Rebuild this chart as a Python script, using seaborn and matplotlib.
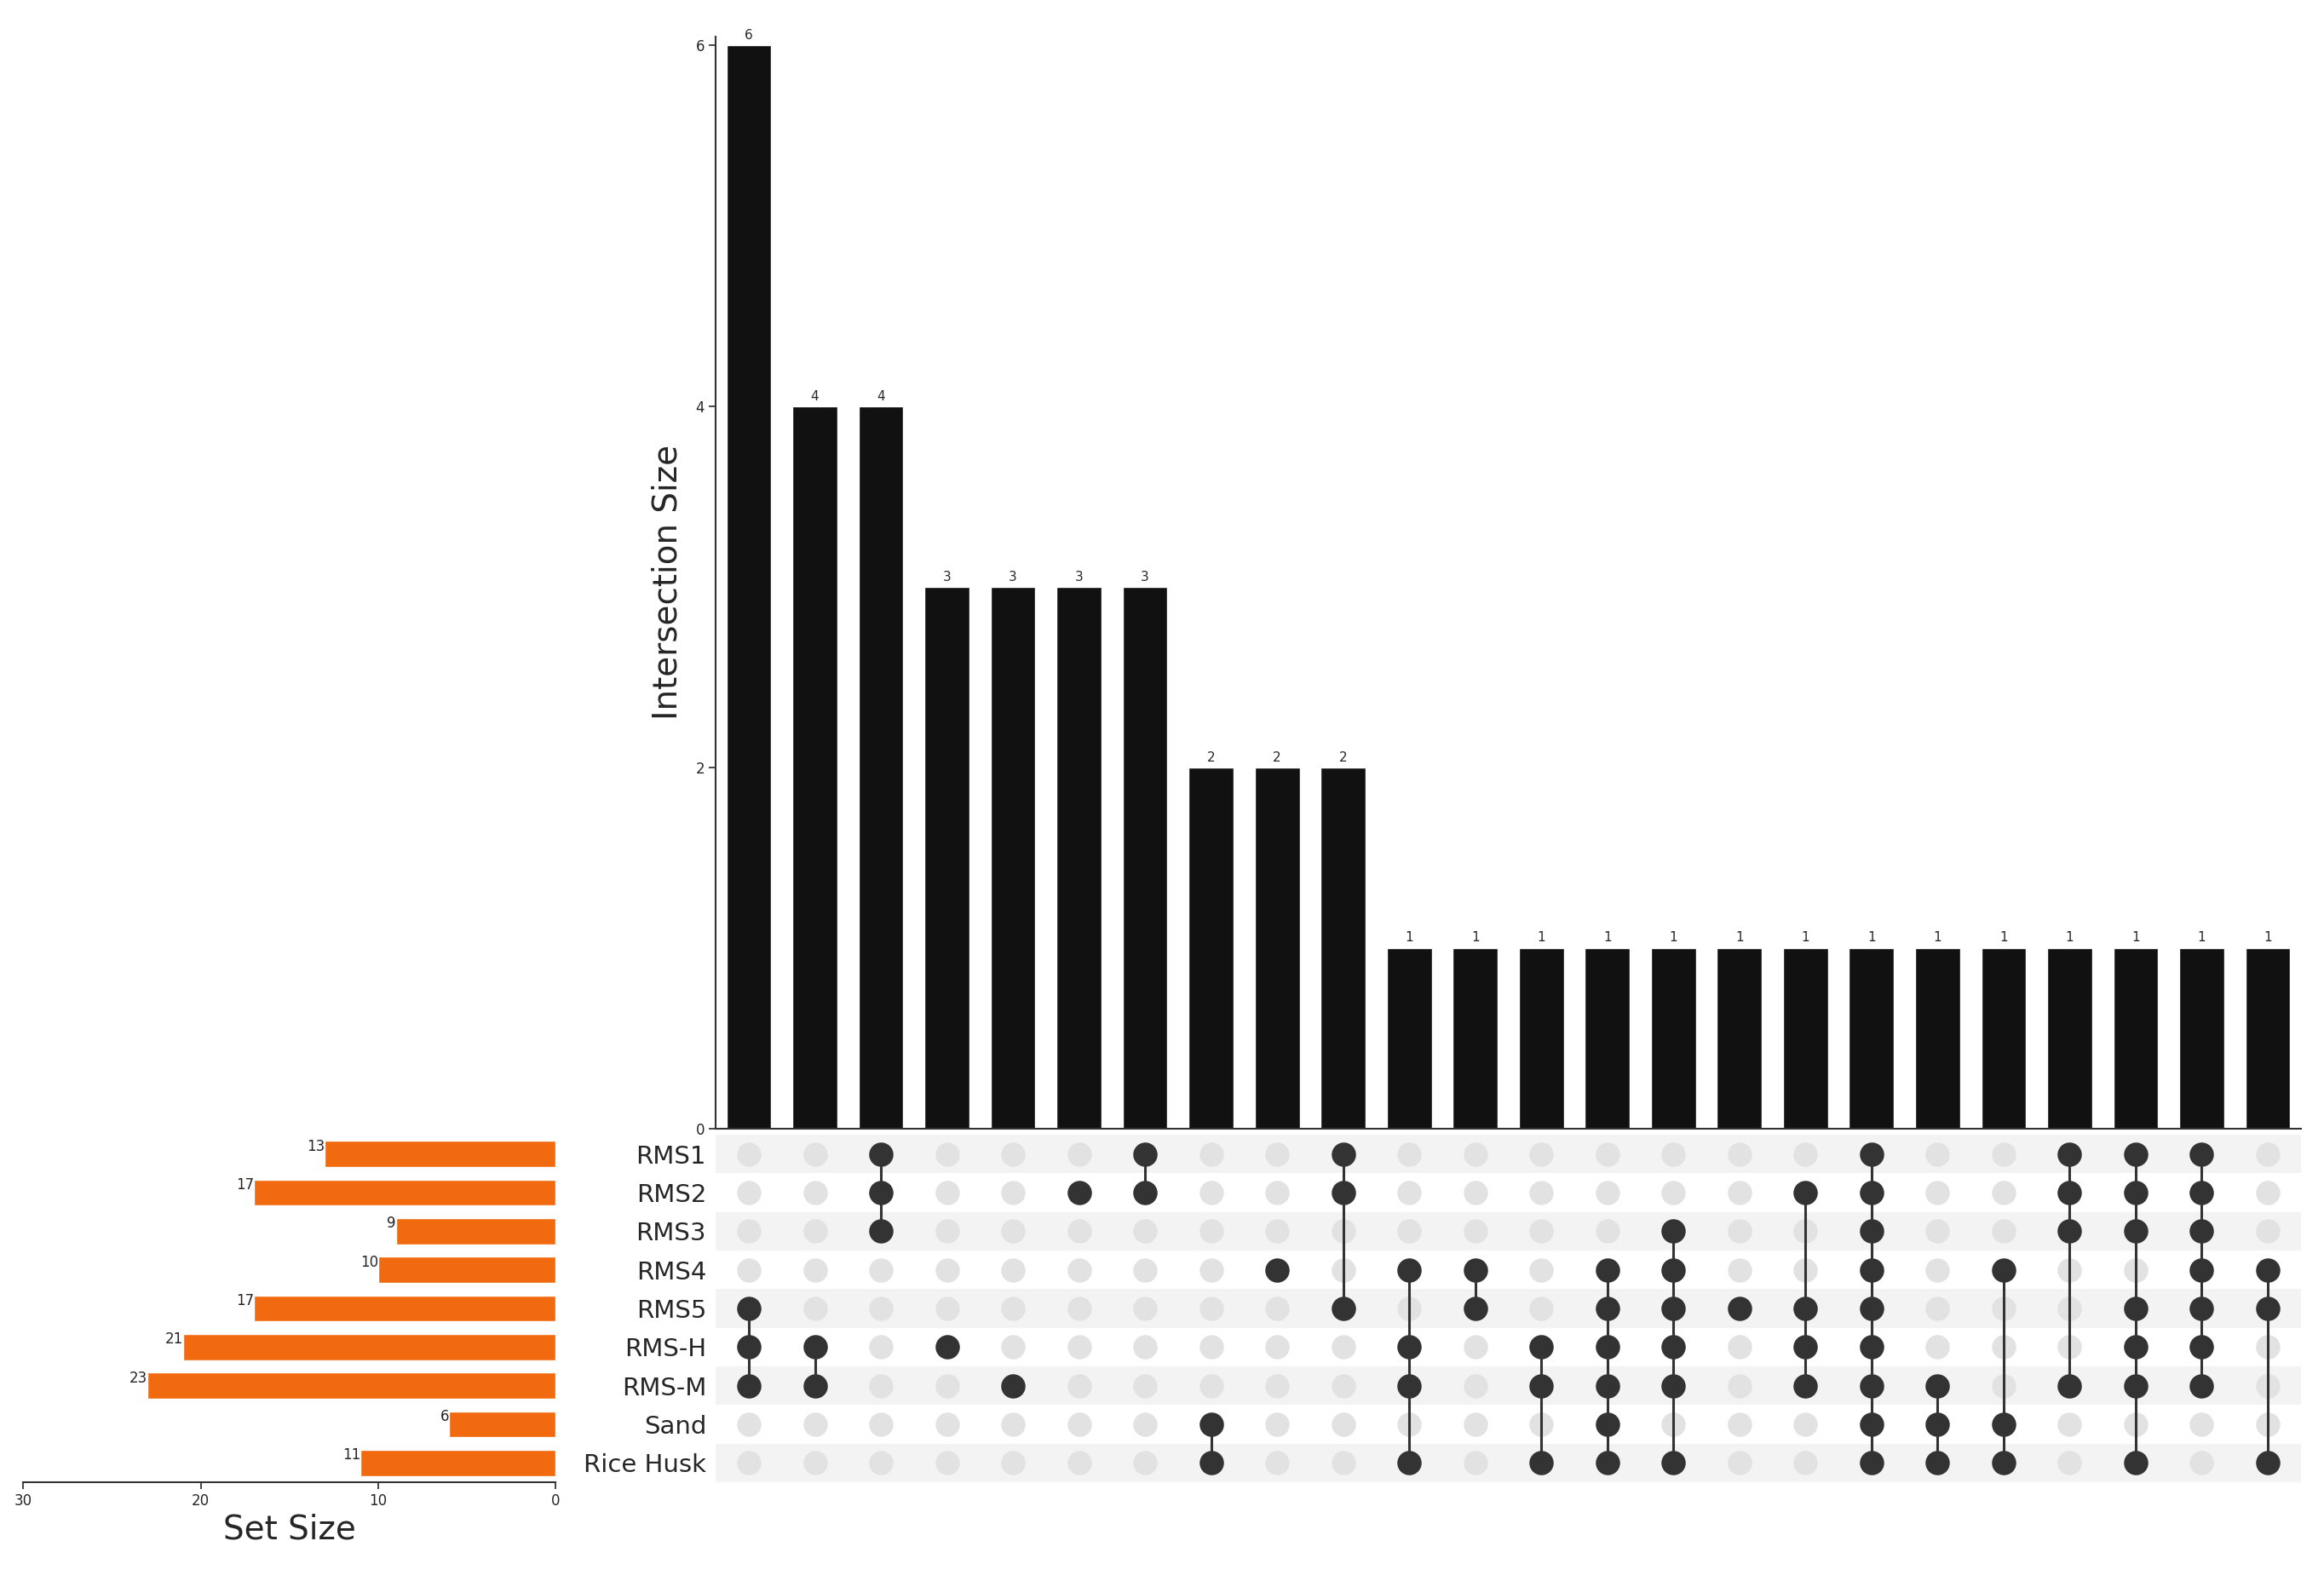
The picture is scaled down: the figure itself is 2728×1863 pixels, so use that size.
import numpy as np
import pandas as pd
import seaborn as sns
import matplotlib.pyplot as plt

sets = ['RMS1', 'RMS2', 'RMS3', 'RMS4', 'RMS5', 'RMS-H', 'RMS-M', 'Sand', 'Rice Husk']
set_sizes = [13, 17, 9, 10, 17, 21, 23, 6, 11]
inter_sizes = [6, 4, 4, 3, 3, 3, 3, 2, 2, 2, 1, 1, 1, 1, 1, 1, 1, 1, 1, 1, 1, 1, 1, 1]
members = [
    ['RMS5', 'RMS-H', 'RMS-M'],
    ['RMS-H', 'RMS-M'],
    ['RMS1', 'RMS2', 'RMS3'],
    ['RMS-H'],
    ['RMS-M'],
    ['RMS2'],
    ['RMS1', 'RMS2'],
    ['Sand', 'Rice Husk'],
    ['RMS4'],
    ['RMS1', 'RMS2', 'RMS5'],
    ['RMS4', 'RMS-H', 'RMS-M', 'Rice Husk'],
    ['RMS4', 'RMS5'],
    ['RMS-H', 'RMS-M', 'Rice Husk'],
    ['RMS4', 'RMS5', 'RMS-H', 'RMS-M', 'Sand', 'Rice Husk'],
    ['RMS3', 'RMS4', 'RMS5', 'RMS-H', 'RMS-M', 'Rice Husk'],
    ['RMS5'],
    ['RMS2', 'RMS5', 'RMS-H', 'RMS-M'],
    sets,
    ['RMS-M', 'Sand', 'Rice Husk'],
    ['RMS4', 'Sand', 'Rice Husk'],
    ['RMS1', 'RMS2', 'RMS3', 'RMS-M'],
    ['RMS1', 'RMS2', 'RMS3', 'RMS5', 'RMS-H', 'RMS-M', 'Rice Husk'],
    ['RMS1', 'RMS2', 'RMS3', 'RMS4', 'RMS5', 'RMS-H', 'RMS-M'],
    ['RMS4', 'RMS5', 'Rice Husk'],
]

sns.set_theme(style='white')
plt.rcParams['font.family'] = ['DejaVu Sans']

fig = plt.figure(figsize=(27.28, 18.63), dpi=100)
ax_bar = fig.add_axes([0.308, 0.289, 0.682, 0.688])
ax_mat = fig.add_axes([0.308, 0.066, 0.682, 0.219])
ax_set = fig.add_axes([0.010, 0.066, 0.229, 0.219])

n = len(inter_sizes)
cols = np.arange(n)
nrow = len(sets)

# intersection bars
bdf = pd.DataFrame({'x': cols, 'size': inter_sizes})
sns.barplot(data=bdf, x='x', y='size', color='#111111', width=0.68,
            saturation=1, ax=ax_bar, native_scale=True)
for x, v in zip(cols, inter_sizes):
    ax_bar.text(x, v + 0.02, str(v), ha='center', va='bottom', fontsize=11)
ax_bar.set_xlim(-0.5, n - 0.5)
ax_bar.set_ylim(0, 6.05)
ax_bar.set_yticks([0, 2, 4, 6])
ax_bar.tick_params(axis='y', labelsize=12, length=6, width=1.2, left=True)
ax_bar.set_xticks([])
ax_bar.set_xlabel('')
ax_bar.set_ylabel('Intersection Size', fontsize=28, labelpad=10)
for s in ['top', 'right']:
    ax_bar.spines[s].set_visible(False)
for s in ['left', 'bottom']:
    ax_bar.spines[s].set_color('#333333')
    ax_bar.spines[s].set_linewidth(1.5)

# matrix
for r in range(nrow):
    if r % 2 == 0:
        ax_mat.axhspan(r - 0.5, r + 0.5, color='#f3f3f3', zorder=0, lw=0)
grid = pd.DataFrame([(c, r) for c in cols for r in range(nrow)], columns=['c', 'r'])
sns.scatterplot(data=grid, x='c', y='r', color='#e2e2e2', s=420, linewidth=0,
                ax=ax_mat, zorder=2)
on = pd.DataFrame([(c, sets.index(m)) for c, ms in enumerate(members) for m in ms],
                  columns=['c', 'r'])
for c, ms in enumerate(members):
    rows = [sets.index(m) for m in ms]
    if len(rows) > 1:
        ax_mat.plot([c, c], [min(rows), max(rows)], color='#333333', lw=2.2, zorder=3)
sns.scatterplot(data=on, x='c', y='r', color='#333333', s=420, linewidth=0,
                ax=ax_mat, zorder=4)
ax_mat.set_xlim(-0.5, n - 0.5)
ax_mat.set_ylim(nrow - 0.5, -0.5)
ax_mat.set_xticks([])
ax_mat.set_yticks(range(nrow))
ax_mat.set_yticklabels(sets, fontsize=21)
ax_mat.tick_params(axis='y', length=0, pad=8)
ax_mat.set_xlabel('')
ax_mat.set_ylabel('')
for s in ax_mat.spines.values():
    s.set_visible(False)

# set sizes
sdf = pd.DataFrame({'set': sets, 'size': set_sizes})
sns.barplot(data=sdf, y='set', x='size', color='#f26a10', saturation=1,
            width=0.68, orient='h', ax=ax_set)
for i, v in enumerate(set_sizes):
    ax_set.text(v, i, str(v), ha='right', va='bottom', fontsize=12)
ax_set.set_xlim(30, 0)
ax_set.set_ylim(nrow - 0.5, -0.5)
ax_set.set_xticks([30, 20, 10, 0])
ax_set.tick_params(axis='x', labelsize=12, length=6, width=1.2, bottom=True)
ax_set.set_yticks([])
ax_set.set_ylabel('')
ax_set.set_xlabel('Set Size', fontsize=28)
for s in ['top', 'right', 'left']:
    ax_set.spines[s].set_visible(False)
ax_set.spines['bottom'].set_color('#333333')
ax_set.spines['bottom'].set_linewidth(1.5)

fig.savefig('out.png', dpi=100, facecolor='white')
